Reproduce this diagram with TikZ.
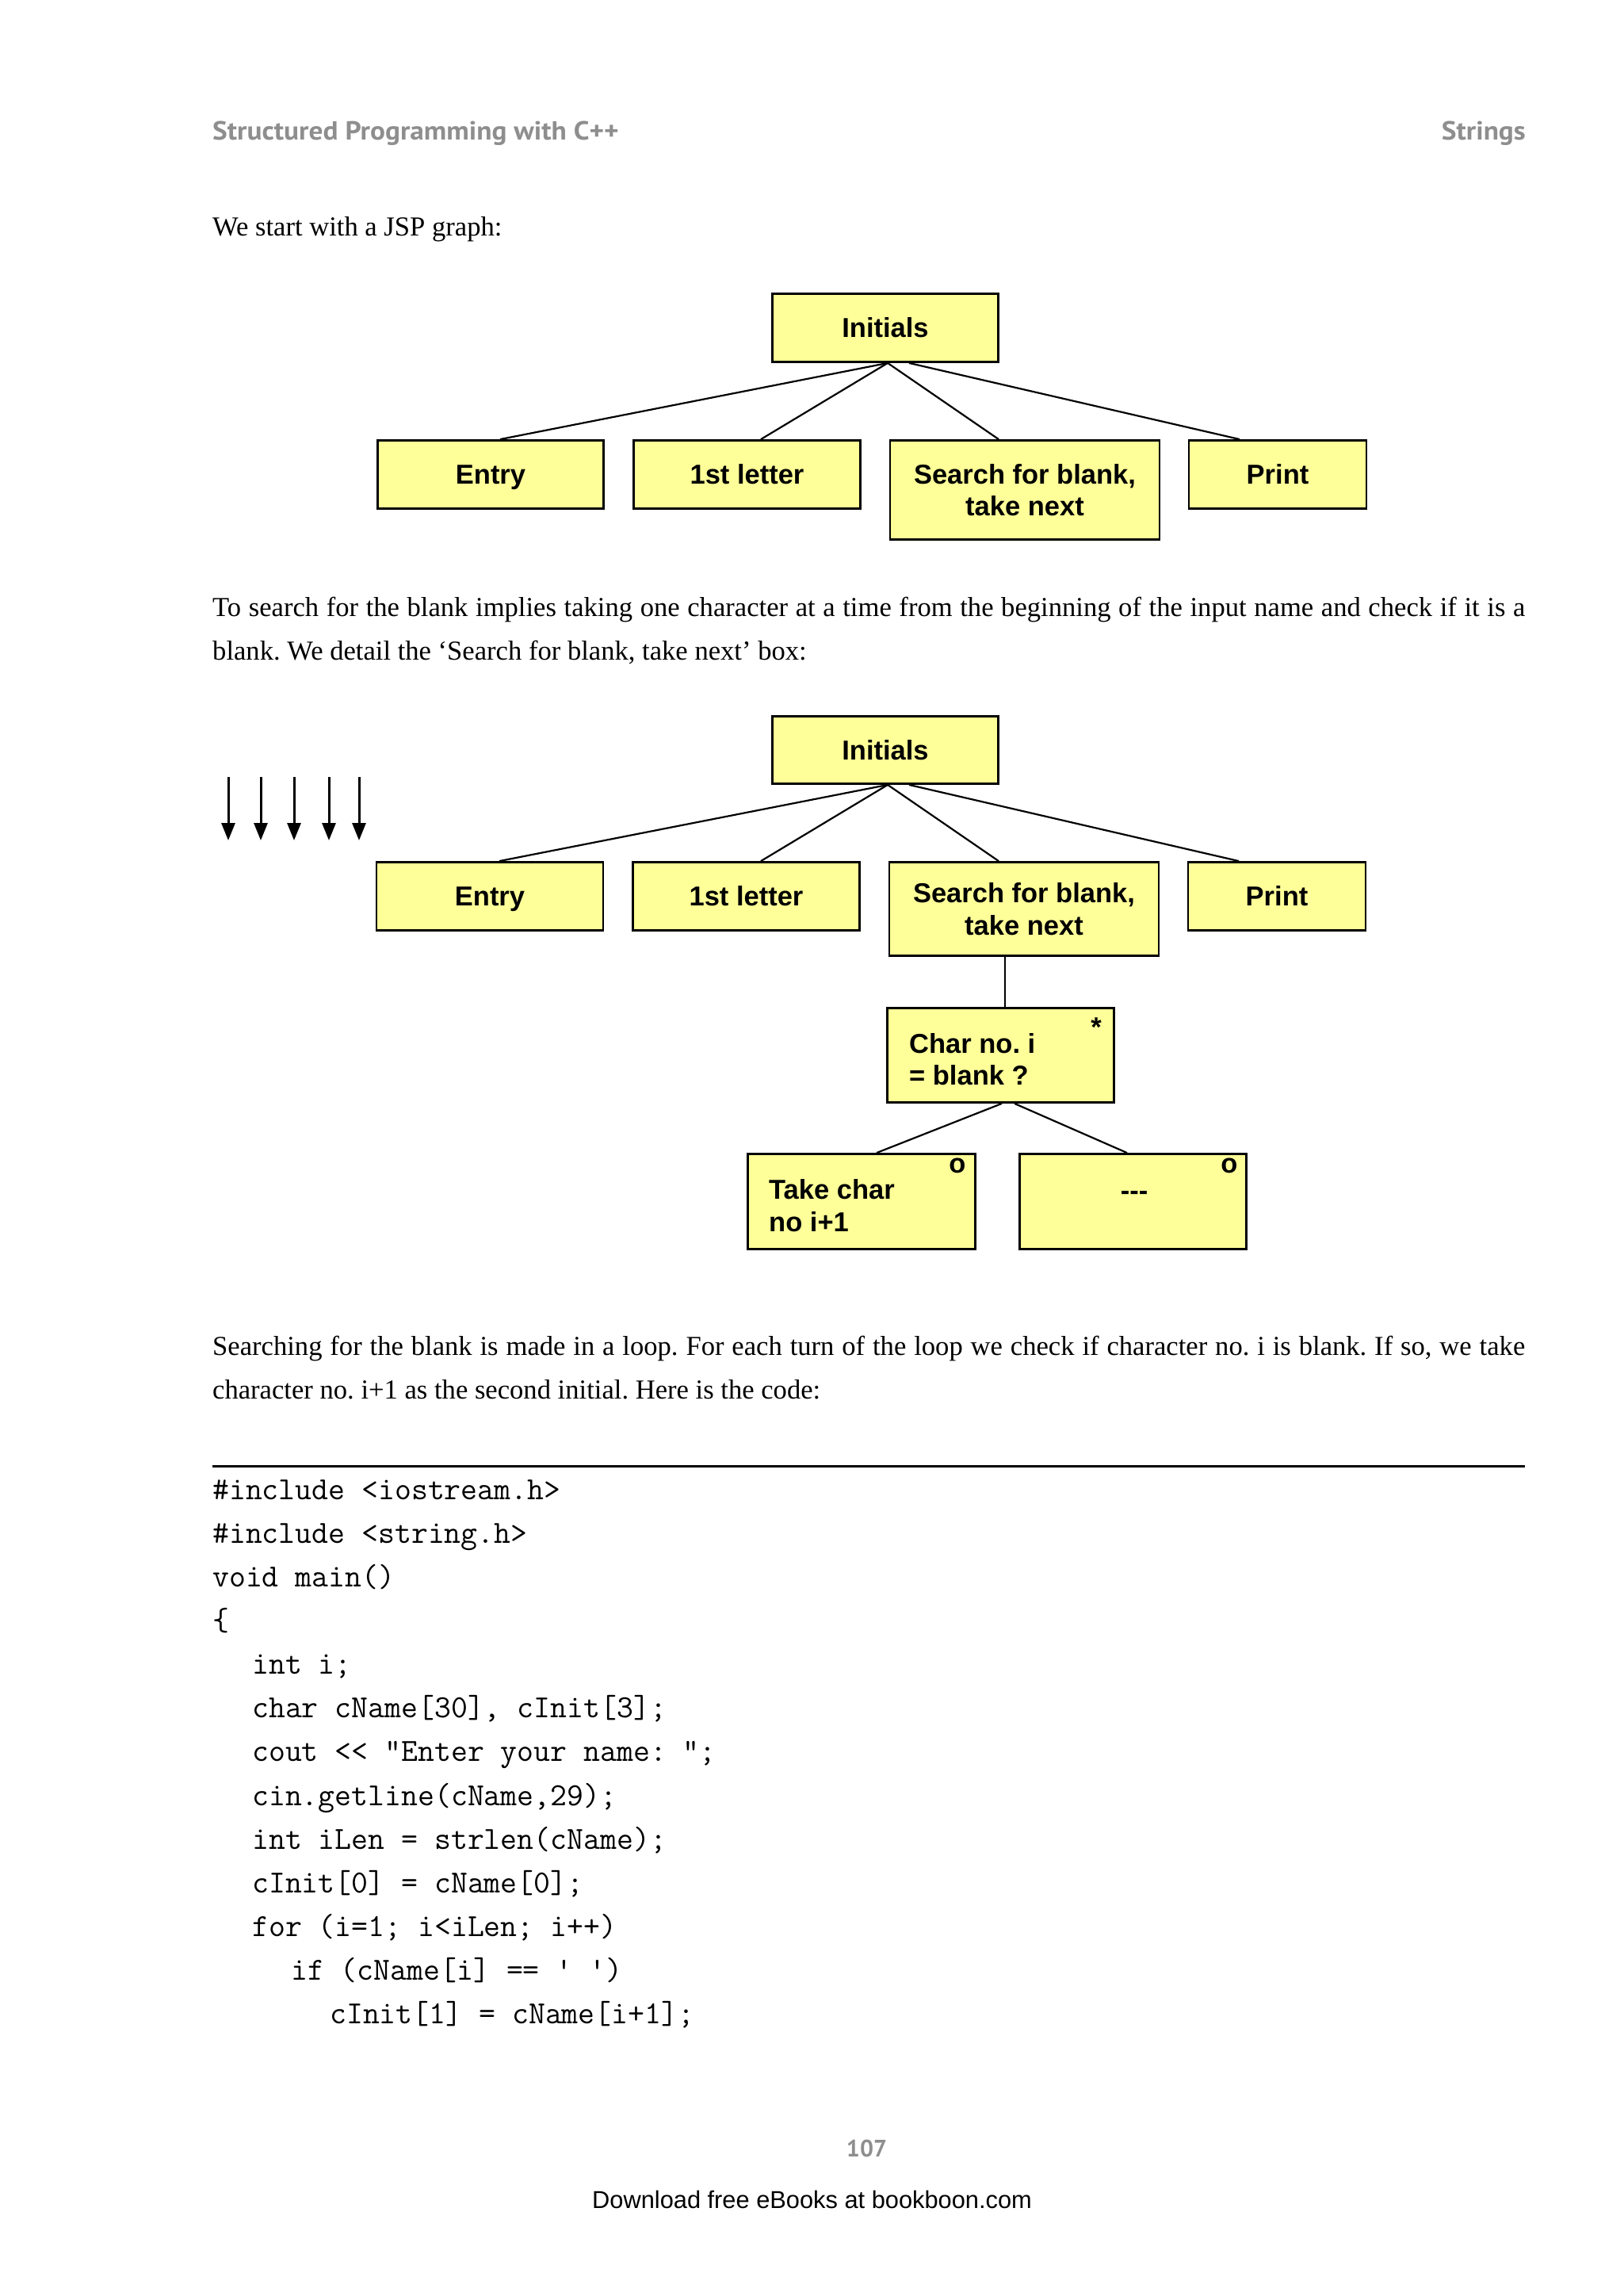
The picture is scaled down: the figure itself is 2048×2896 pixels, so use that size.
\documentclass[tikz,border=0pt]{standalone}
\usepackage{fontspec}
\setmainfont{Liberation Serif}
\newfontfamily\boxfont{Liberation Sans}
\newfontfamily\hdrfont{PT Sans}
\usetikzlibrary{arrows.meta,calc}
\definecolor{jspyellow}{HTML}{FFFF99}
\definecolor{hdrgray}{HTML}{8E8E8E}
\frenchspacing
\tikzset{
  jbox/.style={draw=black, line width=2.8pt, fill=jspyellow, inner sep=0pt,
    font=\boxfont\bfseries\fontsize{34.5}{40.6}\selectfont, align=center},
  oneline/.style={text height=24.7pt, text depth=0pt},
  btxt/.style={inner sep=0pt, anchor=base west, font=\boxfont\bfseries\fontsize{34.5}{40.6}\selectfont},
  sym/.style={inner sep=0pt, anchor=base, font=\boxfont\bfseries\fontsize{34.5}{40.6}\selectfont},
  link/.style={line width=2.2pt},
  body/.style={inner sep=0pt, anchor=base west, font=\fontsize{34.6}{40}\selectfont},
  codeline/.style={inner sep=0pt, anchor=base west, font=\ttfamily\fontsize{40.6}{44}\selectfont},
  hdr/.style={inner sep=0pt, text=hdrgray, font=\hdrfont\bfseries\fontsize{33}{38}\selectfont},
  down/.style={line width=3pt, -{Triangle[width=17pt,length=22pt]}}
}
\begin{document}
\begin{tikzpicture}[x=1pt,y=-1pt]
\useasboundingbox (0,0) rectangle (2048,2896);
\fill[white] (0,0) rectangle (2048,2896);

% header
\node[hdr, anchor=base west] (h1) at (268,176) {\scalebox{1.07}[1]{Structured Programming with C++}};
\node[hdr, anchor=base east] (h2) at (1925,176) {\scalebox{1.07}[1]{Strings}};

\node[body] (t1) at (268,297) {We start with a JSP graph:};

% ---------- diagram 1
\node[jbox, oneline, minimum width=285pt, minimum height=86pt] (ini1) at (1117,413.5) {Initials};
\node[jbox, oneline, minimum width=285pt, minimum height=86pt] (entry1) at (619,598.5) {Entry};
\node[jbox, oneline, minimum width=286pt, minimum height=86pt] (first1) at (942.5,598.5) {1st letter};
\node[jbox, minimum width=340pt, minimum height=125pt] (search1) at (1293,618) {Search for blank,\\take next};
\node[jbox, oneline, minimum width=224pt, minimum height=86pt] (print1) at (1612,598.5) {Print};

\draw[link] ($(ini1.south)+(3,0)$) -- ($(entry1.north)+(12,0)$);
\draw[link] ($(ini1.south)+(3,0)$) -- ($(first1.north)+(17.5,0)$);
\draw[link] ($(ini1.south)+(3,0)$) -- ($(search1.north)+(-33,0)$);
\draw[link] ($(ini1.south)+(30,0)$) -- ($(print1.north)+(-48,0)$);

% ---------- paragraph 1
\node[body] (p1a) at (268,777) {\makebox[1656pt][s]{To search for the blank implies taking one character at a time from the beginning of the input name and check if it is a}};
\node[body] (p1b) at (268,832) {blank. We detail the ‘Search for blank, take next’ box:};

% ---------- diagram 2
\node[jbox, oneline, minimum width=285pt, minimum height=85pt] (ini2) at (1117,946) {Initials};
\node[jbox, oneline, minimum width=286pt, minimum height=86pt] (entry2) at (618,1130.5) {Entry};
\node[jbox, oneline, minimum width=286pt, minimum height=86pt] (first2) at (941.5,1130.5) {1st letter};
\node[jbox, minimum width=340pt, minimum height=118pt] (search2) at (1292,1146.5) {Search for blank,\\take next};
\node[jbox, oneline, minimum width=224pt, minimum height=86pt] (print2) at (1611,1130.5) {Print};

\draw[link] ($(ini2.south)+(3,0)$) -- ($(entry2.north)+(12,0)$);
\draw[link] ($(ini2.south)+(3,0)$) -- ($(first2.north)+(18.5,0)$);
\draw[link] ($(ini2.south)+(3,0)$) -- ($(search2.north)+(-32,0)$);
\draw[link] ($(ini2.south)+(30,0)$) -- ($(print2.north)+(-48,0)$);

% arrows at left
\coordinate (a1s) at (288,980); \coordinate (a1e) at (288,1060);
\coordinate (a2s) at (329,980); \coordinate (a2e) at (329,1060);
\coordinate (a3s) at (371,980); \coordinate (a3e) at (371,1060);
\coordinate (a4s) at (415,980); \coordinate (a4e) at (415,1060);
\coordinate (a5s) at (453,980); \coordinate (a5e) at (453,1060);
\draw[down] (a1s) -- (a1e);
\draw[down] (a2s) -- (a2e);
\draw[down] (a3s) -- (a3e);
\draw[down] (a4s) -- (a4e);
\draw[down] (a5s) -- (a5e);

% lower level
\node[jbox, minimum width=286pt, minimum height=119pt] (char) at (1262.5,1331) {};
\node[btxt] (char1) at (1147,1328) {Char no. i};
\node[btxt] (char2) at (1147,1368) {= blank ?};
\node[sym] (star) at (1383,1307) {*};

\node[jbox, minimum width=287pt, minimum height=120pt] (take) at (1087,1515.5) {};
\node[btxt] (take1) at (970,1512) {Take char};
\node[btxt] (take2) at (970,1553) {no i+1};
\node[sym] (o1) at (1208,1479) {o};

\node[jbox, minimum width=286pt, minimum height=120pt] (dash) at (1429.5,1515.5) {};
\node[sym] (dasht) at (1431,1513) {-{}-{}-};
\node[sym] (o2) at (1551,1479) {o};

\draw[link] ($(search2.south)+(-24,0)$) -- ($(char.north)+(5.5,0)$);
\draw[link] ($(char.south)+(1.5,0)$) -- ($(take.north)+(19,0)$);
\draw[link] ($(char.south)+(17.5,0)$) -- ($(dash.north)+(-7.5,0)$);

% ---------- paragraph 2
\node[body] (p2a) at (268,1709) {\makebox[1656pt][s]{Searching for the blank is made in a loop. For each turn of the loop we check if character no. i is blank. If so, we take}};
\node[body] (p2b) at (268,1764) {character no. i+1 as the second initial. Here is the code:};

% rule
\coordinate (r1) at (268,1849); \coordinate (r2) at (1924,1849);
\draw[line width=3pt] (r1) -- (r2);

% code
\node[codeline] (c0) at (268,1891) {\#include <iostream.h>};
\node[codeline] (c1) at (268,1946) {\#include <string.h>};
\node[codeline] (c2) at (268,2001) {void main()};
\node[codeline] (c3) at (268,2056) {\{};
\node[codeline] (c4) at (318,2111) {int i;};
\node[codeline] (c5) at (318,2166) {char cName[30], cInit[3];};
\node[codeline] (c6) at (318,2221) {cout << "Enter your name: ";};
\node[codeline] (c7) at (318,2277) {cin.getline(cName,29);};
\node[codeline] (c8) at (318,2332) {int iLen = strlen(cName);};
\node[codeline] (c9) at (318,2387) {cInit[0] = cName[0];};
\node[codeline] (c10) at (318,2442) {for (i=1; i<iLen; i++)};
\node[codeline] (c11) at (367,2497) {if (cName[i] == ' ')};
\node[codeline] (c12) at (416,2552) {cInit[1] = cName[i+1];};

% footer
\node[hdr, anchor=base, font=\hdrfont\bfseries\fontsize{30}{36}\selectfont] (pg) at (1093.5,2720) {107};
\node[inner sep=0pt, anchor=base west, font=\boxfont\fontsize{30.8}{36}\selectfont] (dl) at (747,2785) {Download free eBooks at bookboon.com};
\end{tikzpicture}
\end{document}
